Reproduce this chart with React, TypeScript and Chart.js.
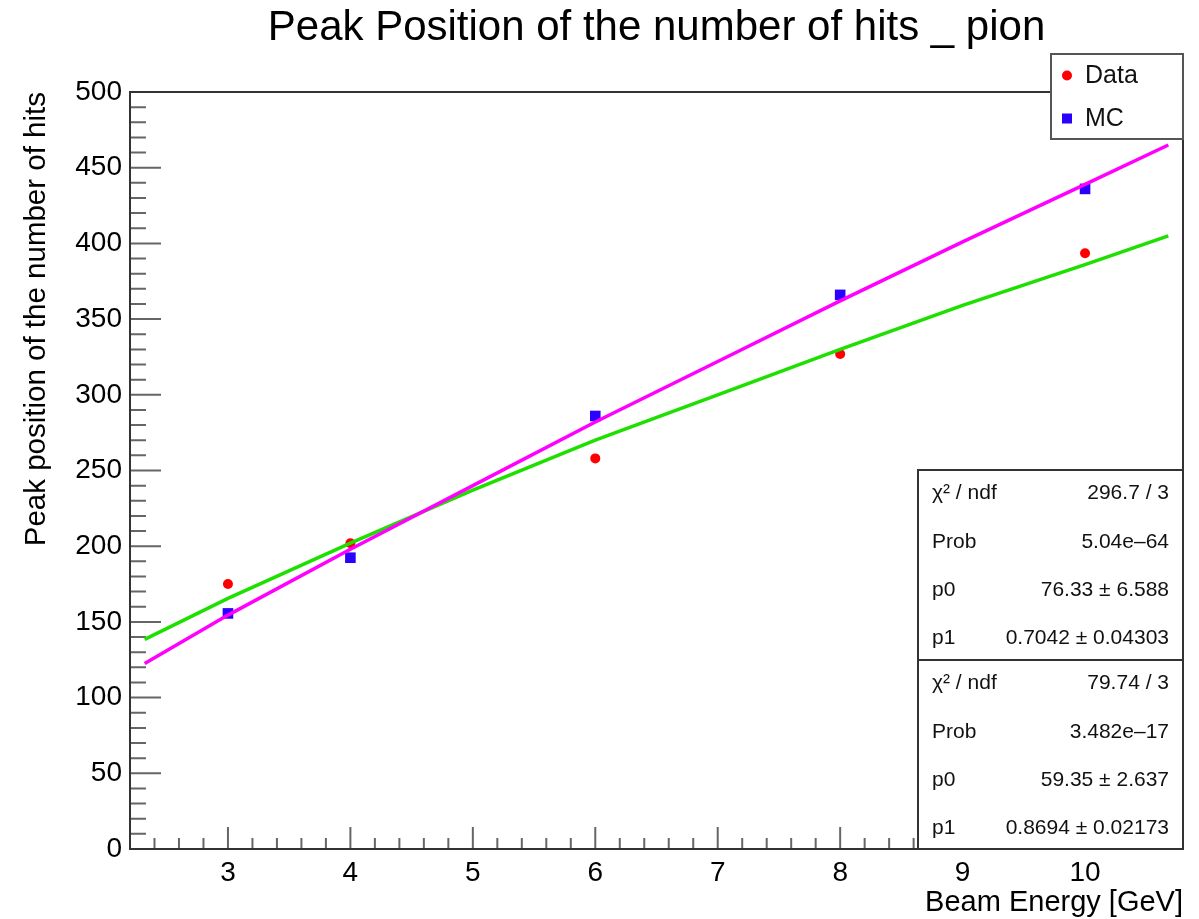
import { useEffect, useRef } from 'react';
import { Chart, registerables } from 'chart.js';

Chart.register(...registerables);

const FONT = '"Liberation Sans", Arial, Helvetica, sans-serif';

// ---- data ----
const beamEnergies = [3, 4, 6, 8, 10];
const dataPeaks = [175, 202, 258, 327, 393.5];
const mcPeaks = [155.6, 192.4, 286, 366, 436];

const fitX = [2.32, 3, 4, 5, 6, 7, 8, 9, 10, 10.68];
const dataFitY = [138.5, 165.5, 202, 237, 270, 300, 330, 359, 386, 405];
const mcFitY = [122.5, 154.5, 198, 240, 282, 322, 362, 401, 439, 465];

const xTickValues = [3, 4, 5, 6, 7, 8, 9, 10];
const yTickValues = [0, 50, 100, 150, 200, 250, 300, 350, 400, 450, 500];

const titleText = 'Peak Position of the number of hits _ pion';
const xTitle = 'Beam Energy [GeV]';
const yTitle = 'Peak position of the number of hits';

const legendLabels = ['Data', 'MC'];
const statLabels = ['\u03c7\u00b2 / ndf', 'Prob', 'p0', 'p1'];
const dataFitStats = ['296.7 / 3', '5.04e\u201364', '76.33 \u00b1 6.588', '0.7042 \u00b1 0.04303'];
const mcFitStats = ['79.74 / 3', '3.482e\u201317', '59.35 \u00b1 2.637', '0.8694 \u00b1 0.02173'];

const RED = '#ff0000';
const BLUE = '#2a00ff';
const GREEN = '#1ee000';
const MAGENTA = '#ff00ff';

const rootPlugin = {
  id: 'rootDecor',
  beforeDatasetsDraw(chart: any) {
    const { ctx, chartArea: a, scales } = chart;
    const x = scales.x;
    const y = scales.y;
    ctx.save();
    ctx.strokeStyle = '#666';
    ctx.lineWidth = 2;
    ctx.beginPath();
    for (let k = Math.ceil(y.min / 10); k <= Math.floor(y.max / 10); k++) {
      const py = y.getPixelForValue(k * 10);
      const len = k % 5 === 0 ? 31 : 16;
      ctx.moveTo(a.left, py);
      ctx.lineTo(a.left + len, py);
    }
    for (let k = Math.ceil(x.min * 5 + 1e-6); k <= Math.floor(x.max * 5 - 1e-6); k++) {
      const px = x.getPixelForValue(k / 5);
      const len = k % 5 === 0 ? 22 : 11;
      ctx.moveTo(px, a.bottom);
      ctx.lineTo(px, a.bottom - len);
    }
    ctx.stroke();
    ctx.strokeStyle = '#333';
    ctx.lineWidth = 2;
    ctx.strokeRect(a.left, a.top, a.right - a.left, a.bottom - a.top);
    ctx.restore();
  },
  afterDraw(chart: any) {
    const { ctx, chartArea: a } = chart;
    ctx.save();
    // legend
    const lx = a.right - 132;
    const ly = 54;
    ctx.fillStyle = '#fff';
    ctx.fillRect(lx, ly, 132, 85);
    ctx.strokeStyle = '#555';
    ctx.lineWidth = 2;
    ctx.strokeRect(lx, ly, 132, 85);
    ctx.fillStyle = RED;
    ctx.beginPath();
    ctx.arc(lx + 16, ly + 21.5, 5, 0, Math.PI * 2);
    ctx.fill();
    ctx.fillStyle = BLUE;
    ctx.fillRect(lx + 11, ly + 59.5, 10, 10);
    ctx.fillStyle = '#111';
    ctx.font = `25px ${FONT}`;
    ctx.textBaseline = 'middle';
    ctx.textAlign = 'left';
    ctx.fillText(legendLabels[0], lx + 34, ly + 22);
    ctx.fillText(legendLabels[1], lx + 34, ly + 65);

    // stats boxes
    const sx = a.right - 265;
    const boxes = [
      { top: 470, bottom: 660, vals: dataFitStats },
      { top: 660, bottom: a.bottom, vals: mcFitStats },
    ];
    const rowOff = [23, 72, 120, 168];
    ctx.font = `21px ${FONT}`;
    for (const b of boxes) {
      ctx.fillStyle = '#fff';
      ctx.fillRect(sx, b.top, a.right - sx, b.bottom - b.top);
      ctx.strokeStyle = '#333';
      ctx.lineWidth = 2;
      ctx.strokeRect(sx, b.top, a.right - sx, b.bottom - b.top);
      ctx.fillStyle = '#111';
      statLabels.forEach((lab, i) => {
        ctx.textAlign = 'left';
        ctx.fillText(lab, sx + 14, b.top + rowOff[i]);
        ctx.textAlign = 'right';
        ctx.fillText(b.vals[i], a.right - 14, b.top + rowOff[i]);
      });
    }
    ctx.restore();
  },
};

export default function App() {
  const ref = useRef<HTMLCanvasElement>(null);
  useEffect(() => {
    const chart = new Chart(ref.current as HTMLCanvasElement, {
      type: 'scatter',
      data: {
        datasets: [
          {
            label: 'MC fit',
            data: fitX.map((x, i) => ({ x, y: mcFitY[i] })),
            showLine: true,
            borderColor: MAGENTA,
            borderWidth: 3.5,
            pointRadius: 0,
            order: 0,
          },
          {
            label: 'Data fit',
            data: fitX.map((x, i) => ({ x, y: dataFitY[i] })),
            showLine: true,
            borderColor: GREEN,
            borderWidth: 3.5,
            pointRadius: 0,
            order: 1,
          },
          {
            label: legendLabels[0],
            data: beamEnergies.map((x, i) => ({ x, y: dataPeaks[i] })),
            pointStyle: 'circle',
            pointRadius: 5,
            backgroundColor: RED,
            borderWidth: 0,
            order: 2,
          },
          {
            label: legendLabels[1],
            data: beamEnergies.map((x, i) => ({ x, y: mcPeaks[i] })),
            pointStyle: 'rect',
            pointRadius: 7.5,
            backgroundColor: BLUE,
            borderWidth: 0,
            order: 3,
          },
        ],
      } as any,
      options: {
        animation: false,
        responsive: false,
        devicePixelRatio: 1,
        layout: { padding: { left: 0, right: 16, top: 0, bottom: 0 } },
        plugins: {
          legend: { display: false },
          tooltip: { enabled: false },
          title: {
            display: true,
            text: titleText,
            fullSize: false,
            color: '#000',
            font: { family: FONT, size: 42, weight: 'normal', lineHeight: 1.2 },
            padding: { top: 3, bottom: 38.6 },
          },
        },
        scales: {
          x: {
            type: 'linear',
            min: 2.2,
            max: 10.8,
            afterBuildTicks: (s: any) => {
              s.ticks = xTickValues.map((v) => ({ value: v }));
            },
            afterFit: (s: any) => {
              s.height = 70;
            },
            ticks: {
              font: { family: FONT, size: 28 },
              color: '#000',
              padding: 7,
              maxRotation: 0,
              autoSkip: false,
            },
            grid: { display: false, drawTicks: false },
            border: { display: false },
            title: {
              display: true,
              text: xTitle,
              align: 'end',
              color: '#000',
              font: { family: FONT, size: 29, lineHeight: 1 },
              padding: { top: 0, bottom: 1.5 },
            },
          },
          y: {
            type: 'linear',
            min: 0,
            max: 500,
            afterBuildTicks: (s: any) => {
              s.ticks = yTickValues.map((v) => ({ value: v }));
            },
            afterFit: (s: any) => {
              s.width = 130;
            },
            ticks: {
              font: { family: FONT, size: 28 },
              color: '#000',
              padding: 8,
              autoSkip: false,
            },
            grid: { display: false, drawTicks: false },
            border: { display: false },
            title: {
              display: true,
              text: yTitle,
              align: 'end',
              color: '#000',
              font: { family: FONT, size: 29.5, lineHeight: 1 },
              padding: { top: 22.5, bottom: 0 },
            },
          },
        },
      } as any,
      plugins: [rootPlugin],
    });
    return () => chart.destroy();
  }, []);
  return (
    <div style={{ position: 'absolute', left: 0, top: 0, width: 1199, height: 919, background: '#fff' }}>
      <canvas ref={ref} width={1199} height={919} style={{ display: 'block', width: 1199, height: 919 }} />
    </div>
  );
}
